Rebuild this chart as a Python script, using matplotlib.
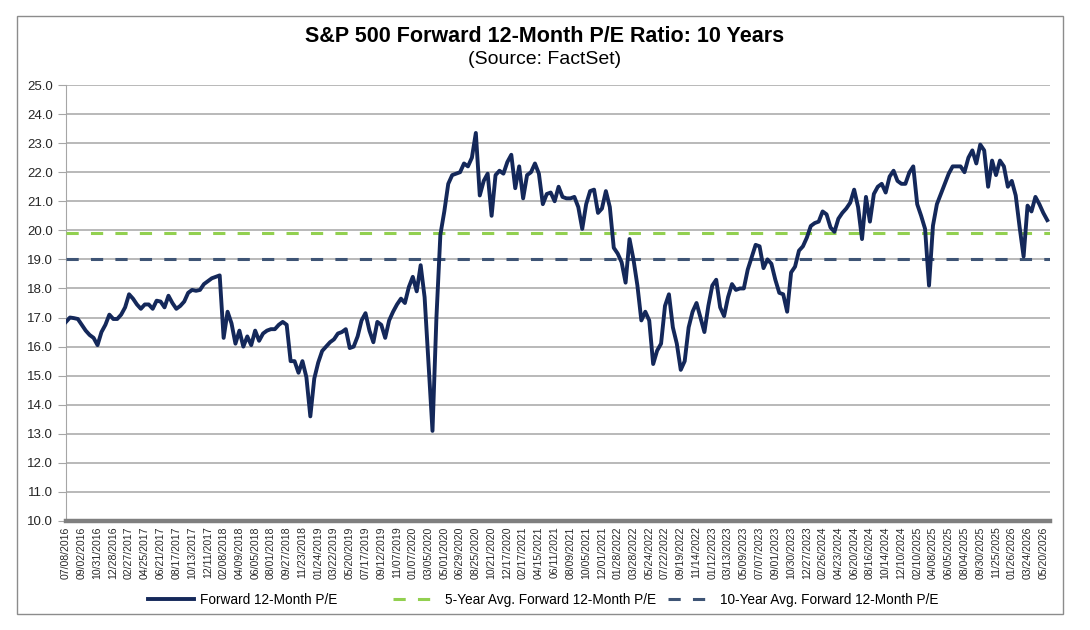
import numpy as np
import matplotlib.pyplot as plt
from matplotlib.patches import Rectangle

plt.rcParams['font.family'] = ['Liberation Sans', 'DejaVu Sans']

# category labels shown every 40 trading days
tick_dates = [
    "07/08/2016", "09/02/2016", "10/31/2016", "12/28/2016", "02/27/2017", "04/25/2017",
    "06/21/2017", "08/17/2017", "10/13/2017", "12/11/2017", "02/08/2018", "04/09/2018",
    "06/05/2018", "08/01/2018", "09/27/2018", "11/23/2018", "01/24/2019", "03/22/2019",
    "05/20/2019", "07/17/2019", "09/12/2019", "11/07/2019", "01/07/2020", "03/05/2020",
    "05/01/2020", "06/29/2020", "08/25/2020", "10/21/2020", "12/17/2020", "02/17/2021",
    "04/15/2021", "06/11/2021", "08/09/2021", "10/05/2021", "12/01/2021", "01/28/2022",
    "03/28/2022", "05/24/2022", "07/22/2022", "09/19/2022", "11/14/2022", "01/12/2023",
    "03/13/2023", "05/09/2023", "07/07/2023", "09/01/2023", "10/30/2023", "12/27/2023",
    "02/26/2024", "04/23/2024", "06/20/2024", "08/16/2024", "10/14/2024", "12/10/2024",
    "02/10/2025", "04/08/2025", "06/05/2025", "08/04/2025", "09/30/2025", "11/25/2025",
    "01/26/2026", "03/24/2026", "05/20/2026",
]

# forward P/E, one value every 10 trading days
pe_values = [
    16.85, 17.0, 16.98, 16.95, 16.75, 16.55, 16.4, 16.3, 16.05, 16.5, 16.75, 17.1,
    16.95, 16.95, 17.1, 17.35, 17.8, 17.65, 17.45, 17.3, 17.45, 17.45, 17.3, 17.58,
    17.55, 17.35, 17.75, 17.5, 17.3, 17.4, 17.55, 17.85, 17.95, 17.92, 17.95, 18.15,
    18.25, 18.35, 18.4, 18.45, 16.3, 17.2, 16.8, 16.1, 16.55, 16.0, 16.35, 16.05,
    16.55, 16.2, 16.45, 16.55, 16.6, 16.6, 16.75, 16.85, 16.75, 15.5, 15.5, 15.1,
    15.5, 14.95, 13.6, 14.9, 15.45, 15.85, 16.0, 16.15, 16.25, 16.45, 16.5,
    16.6, 15.95, 16.0, 16.35, 16.9, 17.15, 16.55, 16.15, 16.85, 16.75, 16.3, 16.9,
    17.2, 17.45, 17.65, 17.5, 18.05, 18.4, 17.9, 18.8, 17.7, 15.4, 13.1, 17.0,
    19.85, 20.65, 21.6, 21.9, 21.95, 22.0, 22.3, 22.2, 22.5, 23.35, 21.2, 21.7,
    21.95, 20.5, 21.9, 22.05, 21.95, 22.35, 22.6, 21.45, 22.2, 21.1, 21.9, 22.0,
    22.3, 21.95, 20.9, 21.25, 21.3, 21.0, 21.5, 21.15, 21.1, 21.1, 21.15, 20.8,
    20.05, 20.9, 21.35, 21.4, 20.6, 20.75, 21.35, 20.8, 19.4, 19.2, 18.9,
    18.2, 19.7, 19.0, 18.1, 16.9, 17.2, 16.9, 15.4, 15.86, 16.1, 17.4, 17.8,
    16.66, 16.1, 15.2, 15.5, 16.66, 17.2, 17.5, 17.0, 16.5, 17.4, 18.1, 18.3,
    17.35, 17.05, 17.7, 18.15, 17.95, 18.0, 18.0, 18.65, 19.07, 19.5, 19.45, 18.7,
    19.0, 18.85, 18.3, 17.85, 17.8, 17.2, 18.55, 18.75, 19.3, 19.45, 19.75, 20.15,
    20.25, 20.3, 20.65, 20.55, 20.1, 19.95, 20.4, 20.6, 20.75, 20.95, 21.4, 20.8,
    19.7, 21.15, 20.3, 21.25, 21.5, 21.6, 21.3, 21.85, 22.05, 21.7, 21.6, 21.6,
    21.99, 22.2, 20.9, 20.5, 20.05, 18.1, 20.16, 20.9, 21.25, 21.6, 21.95, 22.2,
    22.2, 22.2, 22.0, 22.5, 22.75, 22.3, 22.95, 22.75, 21.5, 22.4, 21.9, 22.4,
    22.2, 21.5, 21.7, 21.2, 20.1, 19.1, 20.85, 20.65, 21.15, 20.9, 20.6, 20.35,
]

five_year_avg = 19.9
ten_year_avg = 19.0

series_names = [
    "Forward 12-Month P/E",
    "5-Year Avg. Forward 12-Month P/E",
    "10-Year Avg. Forward 12-Month P/E",
]

step_days = 10
label_every = 40
n_days = 2497

x = np.arange(len(pe_values)) * step_days

fig = plt.figure(figsize=(10.9, 6.3), dpi=100)
ax = fig.add_axes([66 / 1090, 1 - 521 / 630, (1050 - 66) / 1090, (521 - 85) / 630])

h_pe, = ax.plot(x, pe_values, color="#14285a", lw=2.8, solid_joinstyle="round",
                label=series_names[0], zorder=4)
h_5y = ax.axhline(five_year_avg, color="#92d050", lw=2.2, ls=(0, (4, 4)),
                  label=series_names[1], zorder=3)
h_10y = ax.axhline(ten_year_avg, color="#3e5475", lw=2.2, ls=(0, (4, 4)),
                   label=series_names[2], zorder=3)

ax.set_ylim(10, 25)
ax.set_yticks(np.arange(10, 25.5, 1))
ax.yaxis.set_major_formatter("{x:.1f}")
ax.set_xlim(0, n_days)
ax.set_xticks(np.arange(len(tick_dates)) * label_every)
ax.set_xticklabels(tick_dates, rotation=90, fontsize=7.6, color="#262626")

ax.grid(axis="y", color="#a6a6a6", lw=1.1)
ax.set_axisbelow(True)
for side in ["top", "right"]:
    ax.spines[side].set_visible(False)
ax.spines["left"].set_color("#a6a6a6")
ax.spines["bottom"].set_color("#7f7f7f")
ax.spines["bottom"].set_linewidth(3.2)
ax.tick_params(axis="y", labelsize=9.5, labelcolor="#262626", color="#a6a6a6", length=6)
ax.tick_params(axis="x", length=0, pad=4)

fig.text(0.5, 1 - 36 / 630, "S&P 500 Forward 12-Month P/E Ratio: 10 Years",
         ha="center", va="center", fontsize=15.5, fontweight="bold")
fig.text(0.5, 1 - 59 / 630, "(Source: FactSet)", ha="center", va="center", fontsize=14)

# legend entries sit at the spots Excel gave them
for handle, left in zip([h_pe, h_5y, h_10y], [148, 393, 668]):
    fig.legend(handles=[handle], loc="center left", bbox_to_anchor=(left / 1090, 1 - 600 / 630),
               frameon=False, fontsize=9.8, handlelength=3.4, handletextpad=0.4,
               borderpad=0, borderaxespad=0)

fig.add_artist(Rectangle((17 / 1090, 1 - 614 / 630), (1063 - 17) / 1090, (614 - 16) / 630,
                         transform=fig.transFigure, fill=False, ec="#8c8c8c", lw=1))

fig.savefig("out.png", dpi=100)
